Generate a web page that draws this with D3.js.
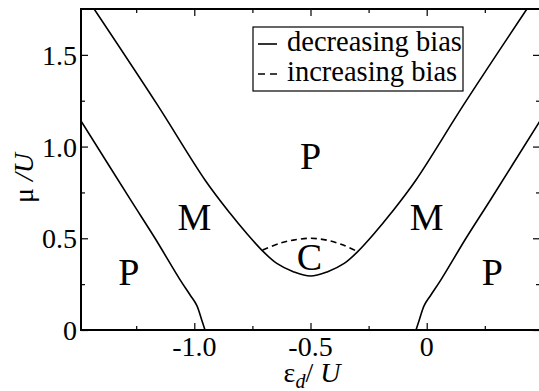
<!DOCTYPE html>
<html>
<head>
<meta charset="utf-8">
<script src="https://cdn.jsdelivr.net/npm/d3@7"></script>
<style>
  body { margin: 0; background: #fff; }
  svg { display: block; }
  text { font-family: "Liberation Serif", "Times New Roman", serif; fill: #000; }
</style>
</head>
<body>
<div id="chart"></div>
<script>
// outer phase boundary (decreasing bias), [eps_d/U, mu/U]
const outerCurve = [
  [-1.431, 1.75], [-1.16, 1.23], [-0.954, 0.818], [-0.846, 0.636], [-0.775, 0.527],
  [-0.703, 0.427], [-0.645, 0.363], [-0.574, 0.318], [-0.5, 0.294], [-0.426, 0.318],
  [-0.355, 0.363], [-0.297, 0.427], [-0.225, 0.527], [-0.154, 0.636], [-0.046, 0.818],
  [0.16, 1.23], [0.431, 1.75]
];
// C region top for increasing bias
const dashedCurve = [
  [-0.706, 0.436], [-0.631, 0.473], [-0.574, 0.49], [-0.502, 0.5], [-0.43, 0.49],
  [-0.359, 0.463], [-0.297, 0.427]
];
// inner P/M boundaries
const innerLeft = [
  [-1.4875, 1.14], [-1.274, 0.709], [-1.169, 0.5], [-1.061, 0.273], [-1.018, 0.191],
  [-0.99, 0.136], [-0.968, 0.055], [-0.954, 0]
];
const innerRight = [
  [-0.046, 0], [-0.032, 0.055], [-0.01, 0.136], [0.018, 0.191], [0.061, 0.273],
  [0.169, 0.5], [0.274, 0.709], [0.4875, 1.14]
];
const regionLabels = [
  { t: "P", x: -0.5, y: 0.88 },
  { t: "M", x: -1.0, y: 0.545 },
  { t: "M", x: 0.0, y: 0.545 },
  { t: "P", x: -1.282, y: 0.245 },
  { t: "P", x: 0.282, y: 0.245 },
  { t: "C", x: -0.505, y: 0.325 }
];
const xMajor = [-1.0, -0.5, 0];
const xMinor = [-1.25, -0.75, -0.25, 0.25];
const yMajor = [0, 0.5, 1.0, 1.5];
const yMinor = [0.25, 0.75, 1.25];
const fmt = d => d === 0 ? "0" : d3.format(".1f")(d).replace("\u2212", "-");

const W = 539, H = 391;
const m = { left: 81, top: 9, right: 540, bottom: 330 };

const svg = d3.select("#chart").append("svg")
  .attr("width", W).attr("height", H);

const x = d3.scaleLinear().domain([-1.4875, 0.4875]).range([m.left, m.right]);
const y = d3.scaleLinear().domain([0, 1.75]).range([m.bottom, m.top]);

svg.append("defs").append("clipPath").attr("id", "clip")
  .append("rect").attr("x", m.left).attr("y", m.top)
  .attr("width", m.right - m.left).attr("height", m.bottom - m.top);

const line = d3.line().x(d => x(d[0])).y(d => y(d[1])).curve(d3.curveCatmullRom.alpha(0.5));

const g = svg.append("g").attr("clip-path", "url(#clip)");
[outerCurve, innerLeft, innerRight].forEach(c => {
  g.append("path").attr("d", line(c))
    .attr("fill", "none").attr("stroke", "#000").attr("stroke-width", 1.6);
});
g.append("path").attr("d", line(dashedCurve))
  .attr("fill", "none").attr("stroke", "#000").attr("stroke-width", 1.6)
  .attr("stroke-dasharray", "6,4");

// region labels
svg.selectAll("text.region").data(regionLabels).enter().append("text")
  .attr("class", "region")
  .attr("x", d => x(d.x)).attr("y", d => y(d.y))
  .attr("text-anchor", "middle")
  .style("font-size", "38px")
  .text(d => d.t);

// ticks inside, mirrored on all sides
svg.append("g").attr("transform", `translate(0,${m.bottom})`)
  .call(d3.axisBottom(x).tickValues(xMajor).tickSize(-7).tickFormat(""));
svg.append("g").attr("transform", `translate(0,${m.top})`)
  .call(d3.axisTop(x).tickValues(xMajor).tickSize(-7).tickFormat(""));
svg.append("g").attr("transform", `translate(${m.left},0)`)
  .call(d3.axisLeft(y).tickValues(yMajor).tickSize(-7).tickFormat(""));
svg.append("g").attr("transform", `translate(${m.right},0)`)
  .call(d3.axisRight(y).tickValues(yMajor).tickSize(-7).tickFormat(""));

svg.append("g").attr("transform", `translate(0,${m.bottom})`)
  .call(d3.axisBottom(x).tickValues(xMinor).tickSize(-4).tickFormat(""));
svg.append("g").attr("transform", `translate(0,${m.top})`)
  .call(d3.axisTop(x).tickValues(xMinor).tickSize(-4).tickFormat(""));
svg.append("g").attr("transform", `translate(${m.left},0)`)
  .call(d3.axisLeft(y).tickValues(yMinor).tickSize(-4).tickFormat(""));
svg.append("g").attr("transform", `translate(${m.right},0)`)
  .call(d3.axisRight(y).tickValues(yMinor).tickSize(-4).tickFormat(""));

svg.selectAll(".domain").remove();
svg.selectAll(".tick line").attr("stroke", "#000").attr("stroke-width", 1.2);

// tick labels
svg.selectAll("text.xl").data(xMajor).enter().append("text")
  .attr("class", "xl").attr("x", d => x(d)).attr("y", 356)
  .attr("text-anchor", "middle").style("font-size", "28px").text(fmt);
svg.selectAll("text.yl").data(yMajor).enter().append("text")
  .attr("class", "yl").attr("x", 77).attr("y", d => y(d) + 10)
  .attr("text-anchor", "end").style("font-size", "28px").text(fmt);

svg.append("rect")
  .attr("x", m.left).attr("y", m.top)
  .attr("width", m.right - m.left).attr("height", m.bottom - m.top)
  .attr("fill", "none").attr("stroke", "#000").attr("stroke-width", 2);

// legend
const lg = svg.append("g");
lg.append("rect").attr("x", 253).attr("y", 27).attr("width", 210).attr("height", 64)
  .attr("fill", "#fff").attr("stroke", "#000").attr("stroke-width", 1.2);
const legendItems = [
  { label: "decreasing bias", dash: null },
  { label: "increasing bias", dash: "7,5" }
];
legendItems.forEach((it, i) => {
  const yy = 44 + i * 30;
  lg.append("line").attr("x1", 258).attr("x2", 277).attr("y1", yy).attr("y2", yy)
    .attr("stroke", "#000").attr("stroke-width", 1.6)
    .attr("stroke-dasharray", it.dash);
  lg.append("text").attr("x", 287).attr("y", yy + 7)
    .style("font-size", "28.5px").text(it.label);
});

// axis titles
svg.append("text")
  .attr("transform", "translate(33,178) rotate(-90)")
  .attr("text-anchor", "middle")
  .style("font-size", "28px")
  .html('μ<tspan font-style="italic"> /</tspan><tspan font-style="italic">U</tspan>');

const xt = svg.append("text").attr("x", 312).attr("y", 382)
  .attr("text-anchor", "middle").style("font-size", "28px");
xt.append("tspan").text("ε");
xt.append("tspan").attr("dy", 6).style("font-size", "20px").attr("font-style", "italic").text("d");
xt.append("tspan").attr("dy", -6).text("/");
xt.append("tspan").attr("font-style", "italic").text(" U");
</script>
</body>
</html>
